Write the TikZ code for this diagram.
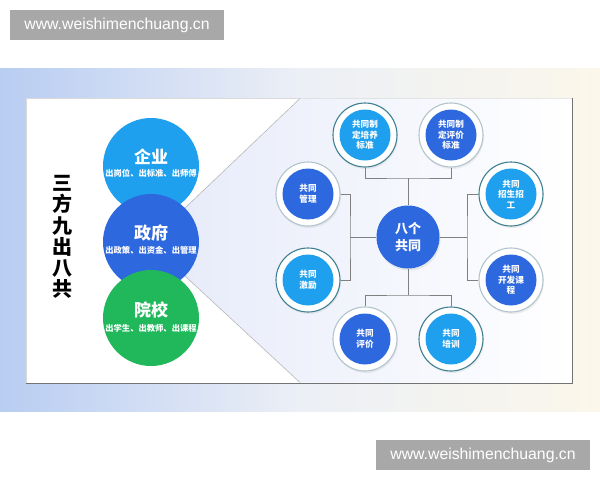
\documentclass[tikz,border=0pt]{standalone}
\usepackage{fontspec}
\setmainfont{Liberation Sans}
\newfontfamily\cjk{Noto Sans CJK SC}
\usetikzlibrary{shadows}
\definecolor{sky}{RGB}{30,160,238}
\definecolor{royal}{RGB}{46,104,222}
\definecolor{grn}{RGB}{32,184,90}
\definecolor{ringdark}{RGB}{62,128,146}
\definecolor{ringlight}{RGB}{178,196,204}
\definecolor{linegray}{RGB}{128,128,128}
\definecolor{wmgray}{RGB}{168,168,168}
\definecolor{bandL}{RGB}{184,205,242}
\definecolor{bandM}{RGB}{236,239,246}
\definecolor{bandR}{RGB}{251,247,234}
\definecolor{fanc}{RGB}{232,236,250}
\tikzset{
  wm/.style={fill=wmgray, text=white, font=\fontsize{15.8}{16}\selectfont, minimum width=214pt, minimum height=30pt, inner sep=0pt},
  bigc/.style={circle, minimum size=96pt, inner sep=0pt, fill=#1},
  bigtitle/.style={text=white, font=\cjk\bfseries\fontsize{17}{20}\selectfont, inner sep=0pt},
  bigsub/.style={text=white, font=\cjk\bfseries\fontsize{8.3}{10}\selectfont, inner sep=0pt},
  ringc/.style={circle, minimum size=64pt, inner sep=0pt, fill=white, draw=#1, line width=1.1pt,
     drop shadow={opacity=0.12, shadow xshift=1pt, shadow yshift=-2pt}},
  innerc/.style={circle, minimum size=51pt, inner sep=0pt, fill=#1, text=white, align=center,
     font=\cjk\bfseries\fontsize{8.6}{10.5}\selectfont},
  conn/.style={draw=linegray, line width=0.8pt},
  fanline/.style={draw=black!28, line width=0.6pt},
}
\begin{document}
\begin{tikzpicture}[x=1pt,y=-1pt]
\useasboundingbox (0,0) rectangle (600,480);
\fill[white] (0,0) rectangle (600,480);
% background band
\shade[left color=bandL, right color=bandR, middle color=bandM] (0,68) rectangle (600,411);
% panel
\fill[white] (26,98) rectangle (572,383);
\draw[draw=black!15, line width=0.6pt] (26,383) -- (26,98) -- (572,98);
\draw[draw=black!55, line width=1pt] (572,98) -- (572,383) -- (26,383);
% watermarks
\node[wm] (wm1) at (117,25) {www.weishimenchuang.cn};
\node[wm] (wm2) at (483,455) {www.weishimenchuang.cn};
% fan
\coordinate (fanT) at (300,98.5);
\coordinate (fanB) at (300,382.5);
\node[bigc=none, minimum size=96pt] (gov0) at (151,242) {};
\shade[left color=fanc, right color=white] (gov0.45) -- (fanT) -- (571,98.5) -- (571,382.5) -- (fanB) -- (gov0.-45) -- cycle;
\draw[fanline] (gov0.45) -- (fanT);
\draw[fanline] (gov0.-45) -- (fanB);
% left title
\node[font=\cjk\bfseries\fontsize{20}{21.2}\selectfont, align=center, inner sep=0pt] (title) at (62.5,237) {三\\方\\九\\出\\八\\共};
% left circles
\node[bigc=sky] (qy) at (151,166) {};
\node[bigc=royal] (zf) at (151,242) {};
\node[bigc=grn] (yx) at (151,318) {};
\node[bigtitle] (qyt) at ([yshift=9pt]qy.center) {企业};
\node[bigsub] (qys) at ([yshift=-7pt]qy.center) {出岗位、出标准、出师傅};
\node[bigtitle] (zft) at ([yshift=9pt]zf.center) {政府};
\node[bigsub] (zfs) at ([yshift=-8pt]zf.center) {出政策、出资金、出管理};
\node[bigtitle] (yxt) at ([yshift=8pt]yx.center) {院校};
\node[bigsub] (yxs) at ([yshift=-10pt]yx.center) {出学生、出教师、出课程};
% center
\node[circle, minimum size=63pt, inner sep=0pt, fill=royal, text=white, align=center,
  font=\cjk\bfseries\fontsize{13}{17}\selectfont,
  drop shadow={opacity=0.15, shadow xshift=1pt, shadow yshift=-2pt}] (c) at (408,237) {八个\\共同};
% satellites
\node[ringc=ringdark] (s1) at (365,135) {};
\node[innerc=sky] at (s1) {共同制\\定培养\\标准};
\node[ringc=ringlight] (s2) at (451,135) {};
\node[innerc=royal] at (s2) {共同制\\定评价\\标准};
\node[ringc=ringlight] (s3) at (308,194) {};
\node[innerc=royal] at (s3) {共同\\管理};
\node[ringc=ringdark] (s4) at (511,194) {};
\node[innerc=sky] at (s4) {共同\\招生招\\工};
\node[ringc=ringdark] (s5) at (308,280) {};
\node[innerc=sky] at (s5) {共同\\激励};
\node[ringc=ringlight] (s6) at (511,280) {};
\node[innerc=royal] at (s6) {共同\\开发课\\程};
\node[ringc=ringlight] (s7) at (365,339) {};
\node[innerc=royal] at (s7) {共同\\评价};
\node[ringc=ringdark] (s8) at (451,339) {};
\node[innerc=sky] at (s8) {共同\\培训};
% connectors
\coordinate (tj) at (408,178);
\coordinate (bj) at (408,295);
\coordinate (lj) at (350,237);
\coordinate (rj) at (467,237);
\draw[conn] (c.north) -- (tj);
\draw[conn] (s1.south) |- (tj) -| (s2.south);
\draw[conn] (c.south) -- (bj);
\draw[conn] (s7.north) |- (bj) -| (s8.north);
\draw[conn] (c.west) -- (lj);
\draw[conn] (s3.east) -| (lj) |- (s5.east);
\draw[conn] (c.east) -- (rj);
\draw[conn] (s4.west) -| (rj) |- (s6.west);
\end{tikzpicture}
\end{document}
